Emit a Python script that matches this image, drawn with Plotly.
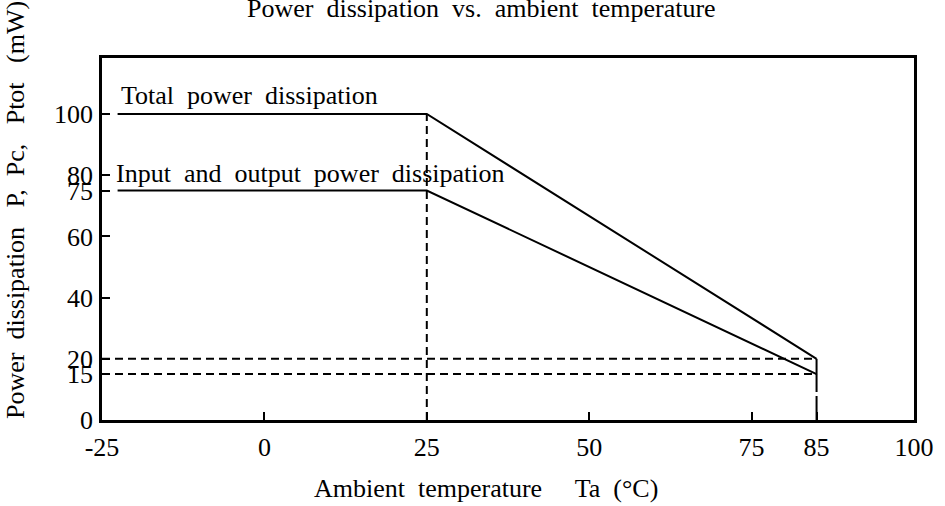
import plotly.graph_objects as go

# Data
total_x = [-22.6, 25, 85]
total_y = [100, 100, 20]
io_x = [-22.6, 25, 85]
io_y = [75, 75, 15]
end_x = [85, 85]
end_y = [20, 15]
ref_h_levels = [20, 15]
ref_h_x = [-25, 85]
ref_v_25_x = [25, 25]
ref_v_25_y = [0, 100]
ref_v_85_x = [85, 85]
ref_v_85_y = [0, 15]
x_ticks = [-25, 0, 25, 50, 75, 85, 100]
y_ticks = [0, 15, 20, 40, 60, 75, 80, 100]

FONT = "Liberation Serif"
FS = 26
W, H = 945, 506
L, R, T, B = 102, 31, 58, 86
PW, PH = W - L - R, H - T - B

def px(xp):
    return (xp - L) / PW

def py(yp):
    return (H - B - yp) / PH

fig = go.Figure()
solid = dict(color="black", width=2)
dash = dict(color="black", width=2, dash="8px,5px")

fig.add_trace(go.Scatter(x=total_x, y=total_y, mode="lines", line=solid))
fig.add_trace(go.Scatter(x=io_x, y=io_y, mode="lines", line=solid))
fig.add_trace(go.Scatter(x=end_x, y=end_y, mode="lines", line=solid))
for lv in ref_h_levels:
    fig.add_trace(go.Scatter(x=ref_h_x, y=[lv, lv], mode="lines", line=dash))
fig.add_trace(go.Scatter(x=ref_v_25_x, y=ref_v_25_y, mode="lines", line=dash))
fig.add_trace(go.Scatter(x=ref_v_85_x, y=ref_v_85_y, mode="lines",
                         line=dict(color="black", width=2, dash="24px,4px")))

fig.update_layout(
    width=W, height=H,
    margin=dict(l=L, r=R, t=T, b=B),
    paper_bgcolor="white", plot_bgcolor="white",
    showlegend=False,
    font=dict(family=FONT, size=FS, color="black"),
)
fig.update_xaxes(range=[-25, 100], tickvals=x_ticks, ticktext=[str(v) for v in x_ticks],
                 ticks="inside", ticklen=8, tickwidth=2, tickcolor="black",
                 showgrid=False, zeroline=False, showline=True, linecolor="black",
                 linewidth=2.5, mirror=True, tickfont=dict(family=FONT, size=FS),
                 ticklabelstandoff=2)
fig.update_yaxes(range=[0, 118.3], tickvals=y_ticks, ticktext=[str(v) for v in y_ticks],
                 ticks="inside", ticklen=8, tickwidth=2, tickcolor="black",
                 showgrid=False, zeroline=False, showline=True, linecolor="black",
                 linewidth=2.5, mirror=True, tickfont=dict(family=FONT, size=FS),
                 ticklabelstandoff=1)

sp = "\u00a0\u00a0"
sp3 = "\u00a0\u00a0\u00a0"
fig.add_annotation(text=f"Power{sp}dissipation{sp}vs.{sp}ambient{sp}temperature",
                   xref="paper", yref="paper", x=px(481), y=py(9),
                   yanchor="middle", xanchor="center", showarrow=False,
                   font=dict(family=FONT, size=FS))
fig.add_annotation(text=f"Total{sp}power{sp}dissipation", x=-22.4, y=105.9,
                   xanchor="left", yanchor="middle", showarrow=False,
                   font=dict(family=FONT, size=FS))
fig.add_annotation(text=f"Input{sp}and{sp}output{sp}power{sp}dissipation", x=-23.2, y=80.7,
                   xanchor="left", yanchor="middle", showarrow=False,
                   font=dict(family=FONT, size=FS))
fig.add_annotation(text=f"Ambient{sp}temperature{sp3}{sp}Ta{sp}(°C)",
                   xref="paper", yref="paper", x=px(486), y=py(488),
                   xanchor="center", yanchor="middle", showarrow=False,
                   font=dict(family=FONT, size=FS))
fig.add_annotation(text=f"Power{sp}dissipation{sp3}P,{sp}Pc,{sp3}Ptot{sp3}(mW)",
                   xref="paper", yref="paper", x=px(15), y=py(210), textangle=-90,
                   xanchor="center", yanchor="middle", showarrow=False,
                   font=dict(family=FONT, size=FS))

fig.write_html("out.html", config={"displayModeBar": False},
               post_script="document.body.style.margin='0';")
